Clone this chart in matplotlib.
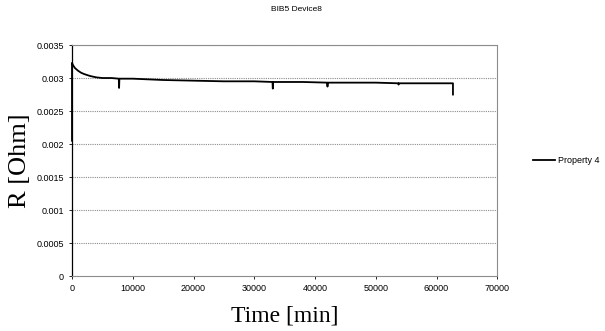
import matplotlib.pyplot as plt

# time in minutes, resistance in ohm
time_min = [0, 0, 200, 500, 1000, 1500, 2000, 3000, 4000, 5000, 6500,
            7700, 7750, 7800, 10000, 15000, 20000, 25000, 30000,
            33000, 33050, 33100, 38000, 42000, 42050, 42100,
            50000, 53700, 53750, 53800, 60000, 62700, 62700]
r_ohm = [0.00205, 0.00323, 0.00319, 0.00315, 0.00311, 0.00308, 0.00306,
         0.00303, 0.00301, 0.00300, 0.00300,
         0.00299, 0.00285, 0.00299, 0.00299, 0.00297, 0.00296, 0.00295,
         0.00295, 0.00294, 0.00284, 0.00294, 0.00294, 0.00293, 0.00287,
         0.00293, 0.00293, 0.00292, 0.00290, 0.00292, 0.00292, 0.00292,
         0.00275]

yticks = [0, 0.0005, 0.001, 0.0015, 0.002, 0.0025, 0.003, 0.0035]
ytick_labels = ["0", "0.0005", "0.001", "0.0015", "0.002", "0.0025", "0.003", "0.0035"]
xticks = [0, 10000, 20000, 30000, 40000, 50000, 60000, 70000]

tick_font = ['Liberation Sans Narrow', 'Liberation Sans', 'DejaVu Sans']
label_font = ['Liberation Serif', 'DejaVu Serif']

fig = plt.figure(figsize=(6.05, 3.31), dpi=100)
ax = fig.add_axes([0.119, 0.166, 0.703, 0.698])

for y in yticks[1:]:
    ax.axhline(y, color='0.55', lw=0.8, ls=(0, (1, 1)), zorder=1)

ax.plot(time_min, r_ohm, color='black', lw=1.3, label='Property 4',
        zorder=3, clip_on=False)

ax.set_xlim(0, 70000)
ax.set_ylim(0, 0.0035)
ax.set_xticks(xticks)
ax.set_xticklabels([str(x) for x in xticks], family=tick_font, fontsize=6.5)
ax.set_yticks(yticks)
ax.set_yticklabels(ytick_labels, family=tick_font, fontsize=6.5)
ax.tick_params(length=2, width=0.6, pad=4)

for side in ['top', 'right', 'bottom']:
    ax.spines[side].set_linestyle((0, (1, 1)))
    ax.spines[side].set_color('0.55')
    ax.spines[side].set_linewidth(0.8)
ax.spines['left'].set_color('black')
ax.spines['left'].set_linewidth(0.9)

ax.set_xlabel('Time [min]', family=label_font, fontsize=17, labelpad=9)
ax.set_ylabel('R [Ohm]', family=label_font, fontsize=19, labelpad=4)

fig.text(0.49, 0.972, 'BIB5 Device8', family=tick_font, fontsize=6,
         ha='center', va='center')

ax.legend(loc='center left', bbox_to_anchor=(1.085, 0.5), frameon=False,
          handlelength=2.4, handletextpad=0.3, borderpad=0, borderaxespad=0,
          prop={'family': tick_font, 'size': 6.5})

fig.savefig('out.png', dpi=100)
